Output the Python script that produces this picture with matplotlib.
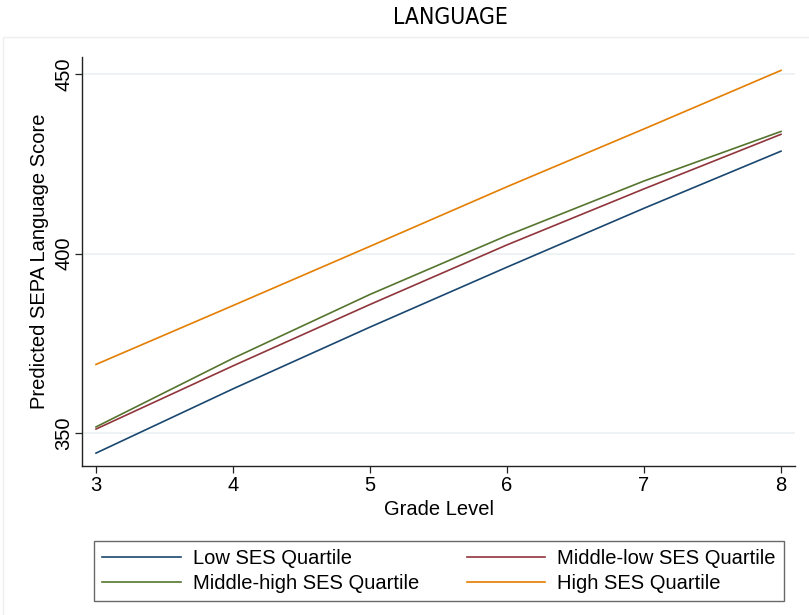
import matplotlib.pyplot as plt
from matplotlib.patches import Rectangle

# Predicted scores by grade for each SES quartile
grades = [3, 4, 5, 6, 7, 8]
low_ses = [344.4, 362.3, 379.5, 396.2, 412.6, 428.5]
midlow_ses = [351.1, 368.7, 385.8, 402.4, 418.0, 433.2]
midhigh_ses = [351.7, 370.8, 388.6, 405.0, 420.2, 434.0]
high_ses = [369.1, 385.5, 402.0, 418.6, 434.7, 451.0]

series_labels = ['Low SES Quartile', 'Middle-low SES Quartile',
                 'Middle-high SES Quartile', 'High SES Quartile']
colors = ['#1a476f', '#90353b', '#55752f', '#e37e00']

y_ticks = [350, 400, 450]
x_ticks = [3, 4, 5, 6, 7, 8]

plt.rcParams['font.family'] = ['Liberation Sans', 'DejaVu Sans']

W, H = 809, 615
fig = plt.figure(figsize=(W / 100, H / 100), dpi=100)

# faint outer graph frame
fig.patches.append(Rectangle((3 / W, -0.1), 1.2, (H - 37) / H + 0.1,
                             transform=fig.transFigure, fill=False,
                             edgecolor='#efefef', linewidth=1.0))

ax = fig.add_axes([82 / W, 1 - 466 / H, 713 / W, 409 / H])

for vals, lab, c in zip([low_ses, midlow_ses, midhigh_ses, high_ses], series_labels, colors):
    ax.plot(grades, vals, color=c, linewidth=1.2, label=lab)

ax.set_xlim(3 - 14 / 137, 8 + 14 / 137)
ax.set_ylim(350 - 33 / 3.59, 450 + 17 / 3.59)
ax.set_xticks(x_ticks)
ax.set_yticks(y_ticks)
ax.grid(axis='y', color='#edf3f4', linewidth=1.4)
ax.set_axisbelow(True)

for side in ['top', 'right']:
    ax.spines[side].set_visible(False)
for side in ['left', 'bottom']:
    ax.spines[side].set_color('#222222')
    ax.spines[side].set_linewidth(1.0)

ax.tick_params(direction='out', length=5, width=0.9, color='#222222', labelsize=14.5)
for t in ax.get_yticklabels():
    t.set_rotation(90)
    t.set_va('center')
ax.tick_params(axis='y', pad=1)
ax.tick_params(axis='x', pad=2)

ax.set_xlabel('Grade Level', fontsize=14.5, labelpad=4)
ax.set_ylabel('Predicted SEPA Language Score', fontsize=14.5, labelpad=4)

fig.text(450 / W, 1 - 18 / H, 'LANGUAGE', ha='center', va='center', fontsize=16.5,
         family=['DejaVu Sans'], fontstretch='condensed')

# legend filled row by row: Low, Middle-low / Middle-high, High
handles, labels = ax.get_legend_handles_labels()
order = [0, 2, 1, 3]
leg = fig.legend([handles[i] for i in order], [labels[i] for i in order],
                 ncol=2, loc='lower left',
                 bbox_to_anchor=(94 / W, 14 / H, 690 / W, 67 / H), mode='expand',
                 fontsize=14.5, handlelength=3.9, handletextpad=0.6, borderpad=0.4,
                 labelspacing=0.3, frameon=True, fancybox=False, borderaxespad=0)
leg.get_frame().set_edgecolor('#444444')
leg.get_frame().set_linewidth(1.0)

fig.savefig('out.png', dpi=100, facecolor='white')
